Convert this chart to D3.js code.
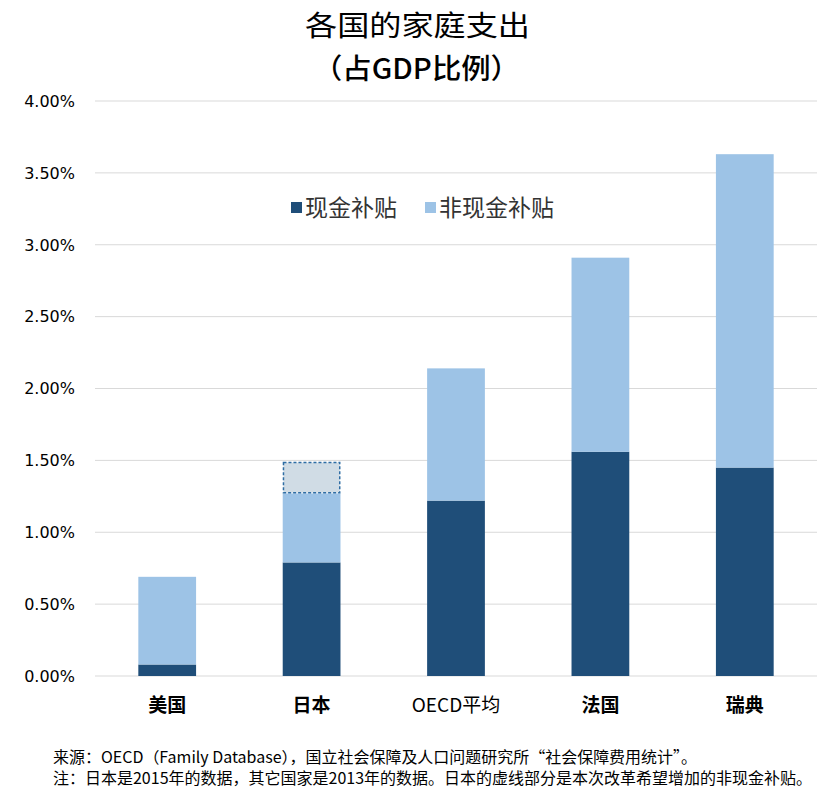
<!DOCTYPE html>
<html>
<head>
<meta charset="utf-8">
<script src="https://cdn.jsdelivr.net/npm/d3@7"></script>
<style>
    body { margin: 0; background: #fff; }
    svg { display: block; font-family: 'Noto Sans CJK SC', 'Noto Sans', sans-serif; }
</style>
</head>
<body>
<svg id="chart"></svg>
<script>
// Chart data (% of GDP).
const categories = ['美国', '日本', 'OECD平均', '法国', '瑞典'];
const cashValues = [0.08, 0.79, 1.22, 1.56, 1.45];
const nonCashValues = [0.61, 0.48, 0.92, 1.35, 2.18];
const plannedExtra = [0, 0.22, 0, 0, 0]; // dashed part for Japan
const yTicks = [0, 0.5, 1, 1.5, 2, 2.5, 3, 3.5, 4];
const seriesNames = ['现金补贴', '非现金补贴'];
const titleLines = ['各国的家庭支出', '（占GDP比例）'];
const notes = [
    '来源：OECD（Family Database），国立社会保障及人口问题研究所“社会保障费用统计”。',
    '注：日本是2015年的数据，其它国家是2013年的数据。日本的虚线部分是本次改革希望增加的非现金补贴。',
];

const width = 826;
const height = 802;
const margin = { top: 101, right: 9, bottom: 126, left: 95 };
const colors = { cash: '#1F4E79', nonCash: '#9DC3E6', extra: '#D0DCE5', extraStroke: '#2E6DA4' };

const svg = d3.select('#chart').attr('width', width).attr('height', height);

const x = d3
    .scaleBand()
    .domain(categories)
    .range([margin.left, width - margin.right])
    .paddingInner(0.6)
    .paddingOuter(0.3);
const y = d3
    .scaleLinear()
    .domain([0, 4])
    .range([height - margin.bottom, margin.top]);

// Title (two lines, stretched to the reference widths).
const titleLengths = [225, 207];
svg.append('g')
    .selectAll('text')
    .data(titleLines)
    .enter()
    .append('text')
    .attr('x', (d, i) => (i === 0 ? 305 : 313))
    .attr('y', (d, i) => 36 + i * 43)
    .attr('font-size', 28)
    .attr('font-weight', (d, i) => (i === 0 ? 400 : 500))
    .attr('textLength', (d, i) => titleLengths[i])
    .attr('lengthAdjust', 'spacingAndGlyphs')
    .attr('fill', '#000')
    .text(d => d);

// Gridlines.
svg.append('g')
    .selectAll('line')
    .data(yTicks)
    .enter()
    .append('line')
    .attr('x1', margin.left)
    .attr('x2', width - margin.right)
    .attr('y1', d => y(d))
    .attr('y2', d => y(d))
    .attr('stroke', '#d9d9d9')
    .attr('stroke-width', 1);

// Y axis labels.
svg.append('g')
    .selectAll('text')
    .data(yTicks)
    .enter()
    .append('text')
    .attr('x', 75)
    .attr('y', d => y(d))
    .attr('dy', '0.36em')
    .attr('text-anchor', 'end')
    .attr('font-size', 16)
    .attr('font-family', "'DejaVu Sans', sans-serif")
    .attr('fill', '#000')
    .text(d => d.toFixed(2) + '%');

// Stacked bars.
const rows = categories.map((c, i) => ({
    c,
    cash: cashValues[i],
    nonCash: nonCashValues[i],
    extra: plannedExtra[i],
}));
const bars = svg.append('g');

bars.selectAll('.cash')
    .data(rows)
    .enter()
    .append('rect')
    .attr('x', d => x(d.c))
    .attr('width', x.bandwidth())
    .attr('y', d => y(d.cash))
    .attr('height', d => y(0) - y(d.cash))
    .attr('fill', colors.cash);

bars.selectAll('.noncash')
    .data(rows)
    .enter()
    .append('rect')
    .attr('x', d => x(d.c))
    .attr('width', x.bandwidth())
    .attr('y', d => y(d.cash + d.nonCash))
    .attr('height', d => y(d.cash) - y(d.cash + d.nonCash))
    .attr('fill', colors.nonCash);

bars.selectAll('.extra')
    .data(rows.filter(d => d.extra > 0))
    .enter()
    .append('rect')
    .attr('x', d => x(d.c) + 0.75)
    .attr('width', x.bandwidth() - 1.5)
    .attr('y', d => y(d.cash + d.nonCash + d.extra) + 0.75)
    .attr('height', d => y(d.cash + d.nonCash) - y(d.cash + d.nonCash + d.extra) - 1.5)
    .attr('fill', colors.extra)
    .attr('stroke', colors.extraStroke)
    .attr('stroke-width', 1.5)
    .attr('stroke-dasharray', '3,2');

// Category labels.
svg.append('g')
    .selectAll('text')
    .data(categories)
    .enter()
    .append('text')
    .attr('x', d => x(d) + x.bandwidth() / 2)
    .attr('y', 712)
    .attr('text-anchor', 'middle')
    .attr('font-size', 19)
    .attr('font-weight', d => (d === 'OECD平均' ? 400 : 700))
    .attr('fill', '#000')
    .text(d => d);

// Legend.
const legend = svg.append('g');
const legendX = [291, 425];
seriesNames.forEach((name, i) => {
    legend.append('rect')
        .attr('x', legendX[i])
        .attr('y', 202)
        .attr('width', 11)
        .attr('height', 11)
        .attr('fill', i === 0 ? colors.cash : colors.nonCash);
    legend.append('text')
        .attr('x', legendX[i] + 14)
        .attr('y', 216)
        .attr('font-size', 23)
        .attr('fill', '#333')
        .text(name);
});

// Notes.
const noteLengths = [644, 759];
svg.append('g')
    .selectAll('text')
    .data(notes)
    .enter()
    .append('text')
    .attr('x', 53)
    .attr('y', (d, i) => 763 + i * 21)
    .attr('font-size', 15.5)
    .attr('textLength', (d, i) => noteLengths[i])
    .attr('lengthAdjust', 'spacingAndGlyphs')
    .attr('fill', '#000')
    .text(d => d);
</script>
</body>
</html>
